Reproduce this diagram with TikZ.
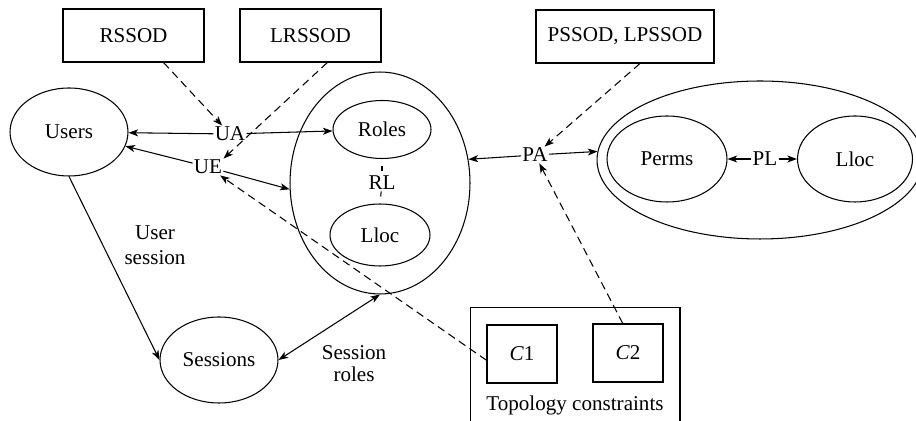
\documentclass[tikz,border=0pt]{standalone}
\usepackage{fontspec}
\setmainfont{Liberation Serif}
\usetikzlibrary{shapes.geometric,arrows.meta}

\begin{document}
\begin{tikzpicture}[
        x=0.02cm, y=-0.02cm,
        every node/.style={font=\rmfamily\fontsize{12}{13}\selectfont, align=center},
        line width=0.6pt,
        tip/.style={-{Stealth[length=5.5pt,width=4pt,inset=1.5pt]}},
        both/.style={{Stealth[length=5.5pt,width=4pt,inset=1.5pt]}-{Stealth[length=5.5pt,width=4pt,inset=1.5pt]}},
        dashedtip/.style={tip, dash pattern=on 4.5pt off 2.8pt},
        set/.style={draw, ellipse, inner sep=0pt},
        sodbox/.style={draw, rectangle, minimum height=1.06cm, inner sep=0pt},
        lbl/.style={inner sep=0.5pt}
      ]
        \clip (0,0) rectangle (916,421);
        \fill[white] (0,0) rectangle (916,421);

        % constraint boxes
        \node[sodbox, minimum width=2.82cm] (rssod) at (133.5,35.5) {RSSOD};
        \node[sodbox, minimum width=2.82cm] (lrssod) at (310.5,35.5) {LRSSOD};
        \node[sodbox, minimum width=3.56cm] (pssod) at (625,36.5) {PSSOD, LPSSOD};

        % sets
        \node[set, minimum width=2.36cm, minimum height=1.76cm] (users) at (69,132) {Users};
        \node[set, minimum width=3.6cm, minimum height=4.44cm] (rolegroup) at (380,183) {};
        \node[set, minimum width=1.96cm, minimum height=1.16cm] (roles) at (382,129.5) {Roles};
        \node[set, minimum width=2.0cm, minimum height=1.24cm] (rloc) at (380,235) {Lloc};
        \node[set, minimum width=2.36cm, minimum height=1.72cm] (sessions) at (219,360) {Sessions};
        \node[set, minimum width=6.52cm, minimum height=3.16cm] (permgroup) at (760,160) {};
        \node[set, minimum width=2.4cm, minimum height=1.72cm] (perms) at (667,159) {Perms};
        \node[set, minimum width=2.3cm, minimum height=1.72cm] (ploc) at (855,159) {Lloc};

        % topology constraints
        \node[draw, minimum width=4.2cm, minimum height=2.66cm] (topo) at (575,374) {};
        \node[sodbox, minimum width=1.4cm, minimum height=1.16cm] (c1) at (522,354) {\textit{C}1};
        \node[sodbox, minimum width=1.4cm, minimum height=1.16cm] (c2) at (628,353) {\textit{C}2};
        \node (topolabel) at (575,405) {Topology constraints};

        % relation labels
        \node[lbl] (ua) at (230,134) {UA};
        \node[lbl] (ue) at (208,167) {UE};
        \node[lbl] (rl) at (382,183) {RL};
        \node[lbl] (pa) at (535,155) {PA};
        \node[lbl] (pl) at (765,159) {PL};
        \node (usersession) at (155,245) {User\\[1pt]session};
        \node (sessionroles) at (354,364) {Session\\[-0.5pt]roles};

        % solid connectors
        \draw[tip] (ua) -- (users);
        \draw[tip] (ua) -- (roles);
        \draw[tip] (ue) -- (users);
        \draw[tip] (ue) -- (rolegroup.184);
        \draw[tip] (users.south) -- (sessions.west);
        \draw[both] (sessions.east) -- (rolegroup.south);
        \draw[tip] (pa) -- (rolegroup.15);
        \draw[tip] (pa) -- (permgroup.177);
        \draw[tip] (pl) -- (perms);
        \draw[tip] (pl) -- (ploc);
        \draw[dash pattern=on 0pt off 4pt on 3pt off 20pt] (roles.south) -- (rl);
        \draw[dash pattern=on 0pt off 4pt on 3pt off 20pt] (rloc.north) -- (rl);

        % dashed connectors
        \draw[dashedtip] (rssod.-42) -- (ua);
        \draw[dashedtip] (lrssod.-58) -- (ue.north east);
        \draw[dashedtip] (pssod.-61) -- (pa);
        \draw[dashedtip] (c2.100) -- (pa);
        \draw[dashedtip] (c1.190) -- (ue);
      \end{tikzpicture}
\end{document}
